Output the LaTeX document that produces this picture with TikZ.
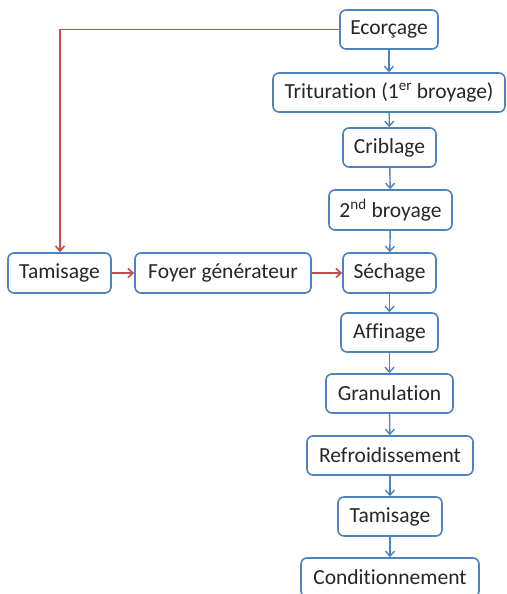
\documentclass[tikz,border=0pt]{standalone}
\usepackage{fontspec}
\setmainfont{Carlito}[Ligatures=NoCommon]
\usetikzlibrary{arrows.meta}
\definecolor{boxblue}{RGB}{79,129,189}
\definecolor{linkred}{RGB}{192,80,77}
\begin{document}
\begin{tikzpicture}[x=1pt,y=-1pt,
  stage/.style={draw=boxblue,line width=1.6pt,rounded corners=6pt,fill=white,
    inner sep=0pt,font=\fontsize{21.5}{23}\selectfont,text=black!85},
  flow/.style={draw=boxblue,line width=1.4pt,-{Straight Barb[length=5pt,width=9pt]}},
  heat/.style={draw=linkred,line width=1.7pt,-{Straight Barb[length=5pt,width=9pt]}}]
\useasboundingbox (0,0) rectangle (506,594);
\clip (0,0) rectangle (506,594);
\newcommand{\stagebox}[6]{% name, x1, y1, x2, y2, text
  \node[stage,minimum width={#4-#2},minimum height={#5-#3}] (#1) at ({(#2+#4)/2},{(#3+#5)/2}) {#6};}
\stagebox{eco}{340}{10}{438}{49}{Ecorçage}
\stagebox{tri}{273}{73}{505}{112}{Trituration (1\textsuperscript{er} broyage)}
\stagebox{cri}{343}{128}{436}{167}{Criblage}
\stagebox{bro}{329}{190}{452}{230}{2\textsuperscript{nd} broyage}
\stagebox{tam}{8}{253}{111}{293}{Tamisage}
\stagebox{foy}{135}{253}{311}{293}{Foyer générateur}
\stagebox{sec}{343}{253}{436}{293}{Séchage}
\stagebox{aff}{341}{313}{438}{352}{Affinage}
\stagebox{gra}{326}{374}{453}{413}{Granulation}
\stagebox{ref}{307}{436}{473}{475}{Refroidissement}
\stagebox{tam2}{338}{497}{442}{536}{Tamisage}
\stagebox{con}{301}{558}{479}{597}{Conditionnement}
\draw[flow] (eco) -- (tri);
\draw[flow] (tri) -- (cri);
\draw[flow] (cri) -- (bro);
\draw[flow] (bro) -- (sec);
\draw[flow] (sec) -- (aff);
\draw[flow] (aff) -- (gra);
\draw[flow] (gra) -- (ref);
\draw[flow] (ref) -- (tam2);
\draw[flow] (tam2) -- (con);
\draw[heat] (eco.west) -| (tam.north -| 60,0);
\draw[heat] (tam) -- (foy);
\draw[heat] (foy) -- (sec);
\end{tikzpicture}
\end{document}
